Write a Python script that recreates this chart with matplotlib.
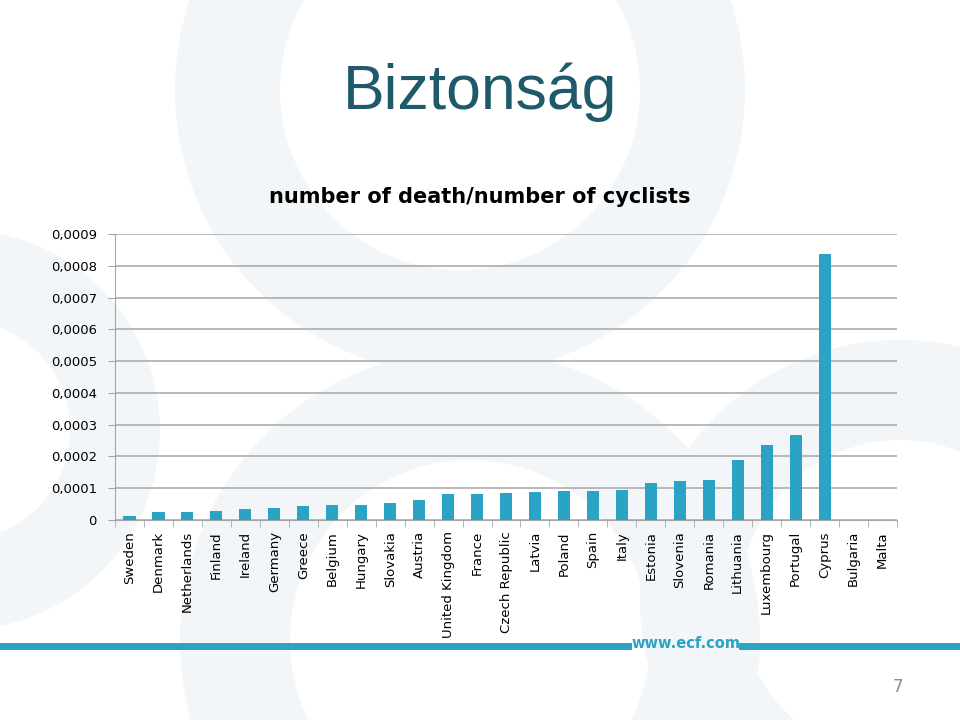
import numpy as np
import matplotlib
matplotlib.use("Agg")
import matplotlib.pyplot as plt
from matplotlib.patches import Wedge
from matplotlib.ticker import FuncFormatter, MultipleLocator

countries = ["Sweden", "Denmark", "Netherlands", "Finland", "Ireland", "Germany",
             "Greece", "Belgium", "Hungary", "Slovakia", "Austria", "United Kingdom",
             "France", "Czech Republic", "Latvia", "Poland", "Spain", "Italy",
             "Estonia", "Slovenia", "Romania", "Lithuania", "Luxembourg", "Portugal",
             "Cyprus", "Bulgaria", "Malta"]
death_rate = [0.000012, 0.000024, 0.000026, 0.000027, 0.000035, 0.000037,
              0.000043, 0.000047, 0.000048, 0.000053, 0.000064, 0.000081,
              0.000083, 0.000084, 0.000087, 0.000091, 0.000092, 0.000093,
              0.000115, 0.000124, 0.000126, 0.000190, 0.000236, 0.000266,
              0.000836, 0.0, 0.0]

teal = "#2BA3C4"
fig = plt.figure(figsize=(9.6, 7.2), dpi=100)
fig.patch.set_facecolor("white")

# faint background rings of the slide template
bg = fig.add_axes([0, 0, 1, 1], zorder=-10)
bg.set_xlim(0, 960)
bg.set_ylim(720, 0)
bg.axis("off")
ring = "#F2F6F8"
bg.add_patch(Wedge((460, 90), 285, 0, 360, width=105, color=ring, lw=0))
bg.add_patch(Wedge((470, 640), 290, 0, 360, width=110, color=ring, lw=0))
bg.add_patch(Wedge((900, 600), 260, 0, 360, width=100, color=ring, lw=0))
bg.add_patch(Wedge((-40, 430), 200, 0, 360, width=90, color=ring, lw=0))

fig.text(0.5, 0.872, "Biztonság", ha="center", va="center",
         fontsize=45, color="#1F5A6A", family="Liberation Sans")
fig.text(0.5, 0.727, "number of death/number of cyclists", ha="center", va="center",
         fontsize=15, fontweight="bold", color="black")

ax = fig.add_axes([0.1198, 0.2778, 0.8146, 0.3972])
ax.patch.set_alpha(0)
x = np.arange(len(countries))
ax.bar(x, death_rate, width=0.42, color=teal, zorder=3)
ax.set_xlim(-0.5, len(countries) - 0.5)
ax.set_ylim(0, 0.0009)
ax.yaxis.set_major_locator(MultipleLocator(0.0001))
ax.yaxis.set_major_formatter(FuncFormatter(
    lambda v, p: "0" if abs(v) < 1e-12 else ("%.4f" % v).replace(".", ",")))
ax.grid(axis="y", color="#A6A6A6", lw=1.1, zorder=0)
for s in ["top", "right"]:
    ax.spines[s].set_visible(False)
ax.spines["left"].set_color("#A6A6A6")
ax.spines["bottom"].set_color("#A6A6A6")
ax.tick_params(axis="y", colors="#A6A6A6", labelcolor="black", labelsize=9.5,
               length=5, direction="out", pad=8)
ax.set_xticks(x)
ax.set_xticklabels(countries, rotation=90, fontsize=9.5)
ax.tick_params(axis="x", length=0, pad=8)
ax.set_xticks(np.arange(len(countries) + 1) - 0.5, minor=True)
ax.tick_params(axis="x", which="minor", length=5, color="#A6A6A6")

# footer band
fig.add_artist(plt.Line2D([0, 628 / 960], [1 - 646 / 720] * 2, color=teal, lw=5))
fig.add_artist(plt.Line2D([742 / 960, 1], [1 - 646 / 720] * 2, color=teal, lw=5))
fig.text(686 / 960, 1 - 644 / 720, "www.ecf.com", ha="center", va="center",
         fontsize=10.5, fontweight="bold", color=teal)
fig.text(898 / 960, 1 - 687 / 720, "7", ha="center", va="center",
         fontsize=12, color="#8C8C8C")

fig.savefig("out.png", dpi=100)
